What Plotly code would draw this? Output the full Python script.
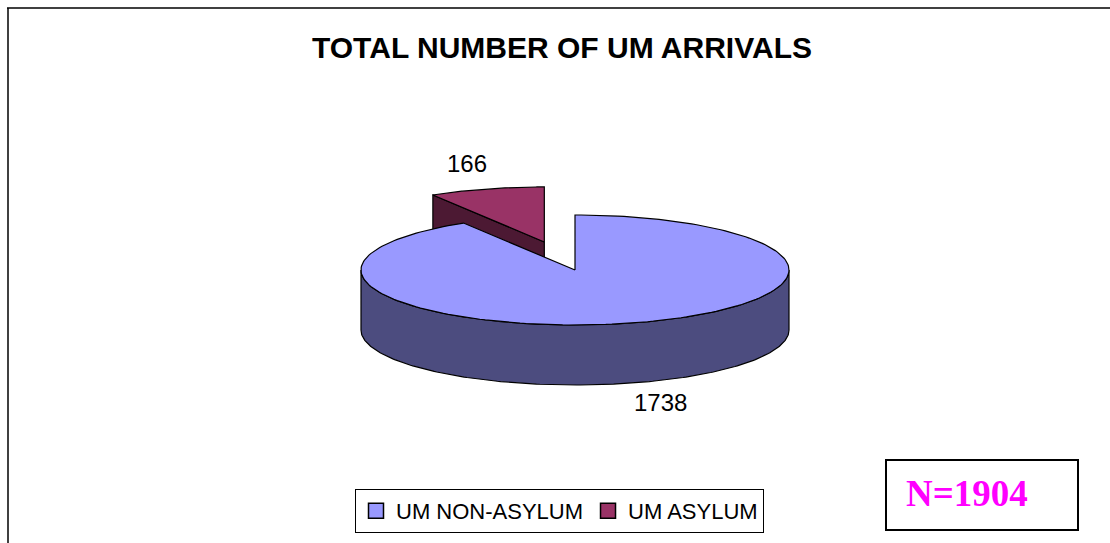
import numpy as np
import plotly.graph_objects as go

# Unaccompanied-minor arrivals by category
categories = ["UM NON-ASYLUM", "UM ASYLUM"]
values = [1738, 166]
top_colors = ["#9999FF", "#993366"]
side_colors = ["#4C4C7F", "#4C1933"]
explode = [0.0, 0.53]

W, H = 1110, 543

# 3D pie geometry in pixel space of the canvas
CX, CY = 575, 270      # centre of the top face
RA, RB = 214, 55       # ellipse semi-axes of the top face
DEPTH = 60             # extruded thickness


def pt(theta_deg, dx=0.0, dy=0.0, dz=0.0):
    t = np.radians(theta_deg)
    return CX + dx + RA * np.sin(t), CY + dy - RB * np.cos(t) + dz


def arc(t0, t1, dx=0.0, dy=0.0, dz=0.0, n=200):
    ts = np.linspace(t0, t1, n)
    xs, ys = pt(ts, dx, dy, dz)
    return list(xs), list(ys)


total = sum(values)
spans = [v / total * 360.0 for v in values]
starts = np.concatenate([[0.0], np.cumsum(spans)[:-1]])

fig = go.Figure()


def poly(xs, ys, color):
    fig.add_trace(go.Scatter(
        x=xs + [xs[0]], y=ys + [ys[0]], mode="lines", fill="toself",
        fillcolor=color, line=dict(color="black", width=1.2),
        hoverinfo="skip", showlegend=False))


# draw the exploded slice first (it sits behind), then the main slice
order = sorted(range(len(values)), key=lambda i: -explode[i])
for i in order:
    t0, t1 = starts[i], starts[i] + spans[i]
    mid = np.radians((t0 + t1) / 2)
    dx = explode[i] * RA * np.sin(mid)
    dy = -explode[i] * RB * np.cos(mid)
    ax, ay = CX + dx, CY + dy

    # front outer wall (visible between 90 and 270 degrees)
    lo, hi = max(t0, 90.0), min(t1, 270.0)
    if hi > lo:
        xs_t, ys_t = arc(lo, hi, dx, dy)
        xs_b, ys_b = arc(hi, lo, dx, dy, DEPTH)
        poly(xs_t + xs_b, ys_t + ys_b, side_colors[i])

    # radial cut faces that face the viewer
    for edge, sign in ((t0, -1), (t1, 1)):
        normal = np.radians(edge + sign * 90)
        if -np.cos(normal) > 0.05 and spans[i] < 360:
            ex, ey = pt(edge, dx, dy)
            poly([ax, ex, ex, ax], [ay, ey, ey + DEPTH, ay + DEPTH], side_colors[i])

    # top face
    xs, ys = arc(t0, t1, dx, dy)
    poly([ax] + xs, [ay] + ys, top_colors[i])

# legend entries
for name, col in zip(categories, top_colors):
    fig.add_trace(go.Scatter(
        x=[None], y=[None], mode="markers", name=name,
        marker=dict(symbol="square", size=15, color=col,
                    line=dict(color="black", width=1.5))))

# value labels
label_pos = [(660, 402), (467, 163)]
annotations = []
for v, (lx, ly) in zip(values, label_pos):
    annotations.append(dict(x=lx, y=ly, xref="x", yref="y", text=str(v),
                            showarrow=False,
                            font=dict(family="Liberation Sans, Arial", size=24, color="black")))

annotations.append(dict(x=967, y=493, xref="x", yref="y", text=f"N={total}",
                        showarrow=False,
                        font=dict(family="Liberation Serif, Times New Roman", size=37,
                                  color="#FF00FF", weight="bold")))

shapes = [
    dict(type="line", x0=7, y0=8, x1=W, y1=8, xref="x", yref="y",
         line=dict(color="black", width=1.5)),
    dict(type="line", x0=8, y0=8, x1=8, y1=H, xref="x", yref="y",
         line=dict(color="black", width=1.5)),
    dict(type="rect", x0=886, y0=460, x1=1078, y1=530, xref="x", yref="y",
         line=dict(color="black", width=2)),
]

fig.update_layout(
    width=W, height=H,
    margin=dict(l=0, r=0, t=0, b=0),
    paper_bgcolor="white", plot_bgcolor="white",
    title=dict(text="TOTAL NUMBER OF UM ARRIVALS", x=562 / W, xanchor="center",
               y=1 - 47 / H, yanchor="middle",
               font=dict(family="Liberation Sans, Arial", size=30, color="black",
                         weight="bold")),
    xaxis=dict(range=[0, W], visible=False, fixedrange=True),
    yaxis=dict(range=[H, 0], visible=False, fixedrange=True),
    showlegend=True,
    legend=dict(orientation="h", x=355 / W, y=1 - 489 / H, xanchor="left", yanchor="top",
                bordercolor="black", borderwidth=1, bgcolor="white",
                font=dict(family="Liberation Sans, Arial", size=22, color="black"),
                itemwidth=30, tracegroupgap=0),
    annotations=annotations,
    shapes=shapes,
)

fig.write_html("out.html")
